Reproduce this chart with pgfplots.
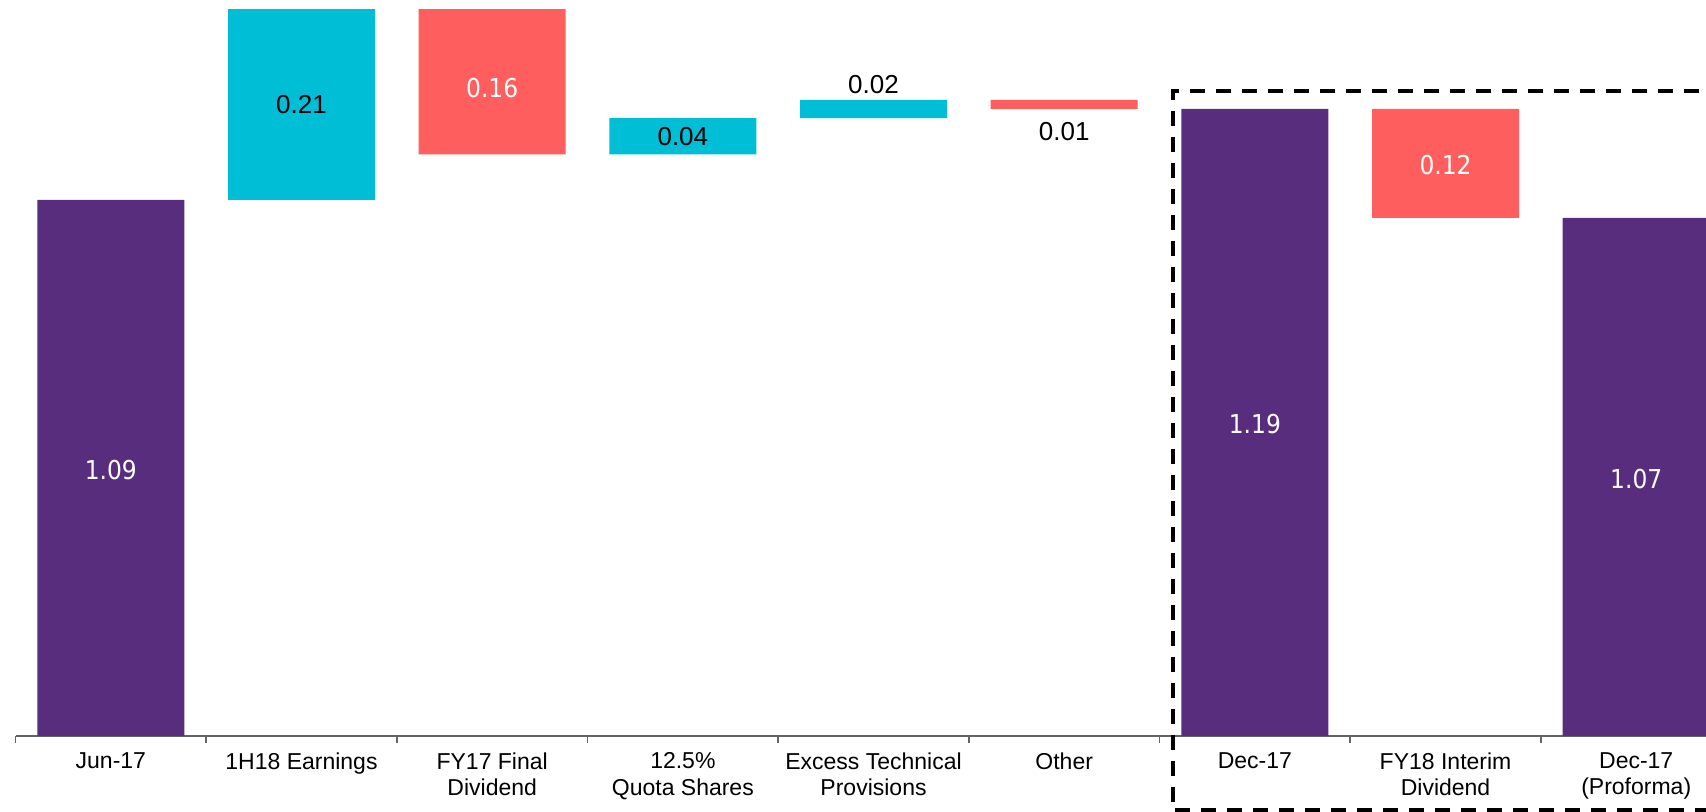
\documentclass[border=0pt]{standalone}
\usepackage{pgfplots}
\pgfplotsset{compat=1.18}
\usepackage{pgfplotstable}
\usepackage{fontspec}
\setmainfont{Liberation Sans}
\newfontfamily\tahoma{DejaVu Sans Condensed}
\definecolor{cpurple}{RGB}{89,45,126}
\definecolor{ccyan}{RGB}{0,190,214}
\definecolor{cred}{RGB}{255,94,94}
\definecolor{caxis}{RGB}{100,100,100}

\pgfplotstableread{
x base purple cyan red
0 0    1.09 0    0
1 1.09 0    0.21 0
2 1.14 0    0    0.16
3 1.14 0    0.04 0
4 1.18 0    0.02 0
5 1.19 0    0    0.01
6 0    1.19 0    0
7 1.07 0    0    0.12
8 0    1.07 0    0
}\wfdata

\tikzset{
  valb/.style={text=black, font=\fontsize{13}{15}\selectfont},
  valw/.style={text=white, font=\tahoma\fontsize{13}{15}\selectfont},
}

\begin{document}
\begin{tikzpicture}
\begin{axis}[
  scale only axis,
  width=845.25pt, height=367.85pt,
  xmin=-0.5, xmax=8.366,
  ymin=0.5, ymax=1.31,
  ybar stacked,
  bar width=73.5pt,
  axis x line=bottom,
  axis y line=none,
  axis line style={caxis, line width=1pt, -},
  xtick={0,...,8},
  xticklabels={Jun-17, 1H18 Earnings, FY17 Final\\Dividend, 12.5\%\\Quota Shares, Excess Technical\\Provisions, Other, Dec-17, FY18 Interim\\Dividend, Dec-17\\(Proforma)},
  major tick length=0pt,
  minor xtick={-0.5,0.5,...,7.5},
  minor tick length=3.5pt,
  tick align=outside,
  tick style={caxis, line width=0.8pt},
  xticklabel style={align=center, font=\fontsize{11.5}{13.2}\selectfont, yshift=-5pt},
]
\addplot[draw=none, fill=none] table[x=x, y=base] {\wfdata};
\addplot[draw=none, fill=cpurple] table[x=x, y=purple] {\wfdata};
\addplot[draw=none, fill=ccyan] table[x=x, y=cyan] {\wfdata};
\addplot[draw=none, fill=cred] table[x=x, y=red] {\wfdata};

\coordinate (v0) at (axis cs:0,0.792);
\coordinate (v1) at (axis cs:1,1.195);
\coordinate (v2) at (axis cs:2,1.213);
\coordinate (v3) at (axis cs:3,1.16);
\coordinate (v4) at (axis cs:4,1.217);
\coordinate (v5) at (axis cs:5,1.165);
\coordinate (v6) at (axis cs:6,0.843);
\coordinate (v7) at (axis cs:7,1.128);
\coordinate (v8) at (axis cs:8,0.783);

\coordinate (bbSW) at (axis cs:-0.5813,0.416);
\coordinate (bbNE) at (axis cs:8.366,1.31);
\coordinate (dTL) at (axis cs:5.569,1.2102);
\coordinate (dBL) at (axis cs:5.569,0.418);
\coordinate (dTR) at (axis cs:8.6,1.2102);
\coordinate (dBR) at (axis cs:8.6,0.418);
\end{axis}
\node[valw] at (v0) {1.09};
\node[valb] at (v1) {0.21};
\node[valw] at (v2) {0.16};
\node[valb] at (v3) {0.04};
\node[valb] at (v4) {0.02};
\node[valb] at (v5) {0.01};
\node[valw] at (v6) {1.19};
\node[valw] at (v7) {0.12};
\node[valw] at (v8) {1.07};
\draw[black, line width=2pt, dash pattern=on 7.5pt off 5.5pt] (dTR) -- (dTL) -- (dBL) -- (dBR);
\pgfresetboundingbox
\path[use as bounding box] (bbSW) rectangle (bbNE);
\end{tikzpicture}
\end{document}
